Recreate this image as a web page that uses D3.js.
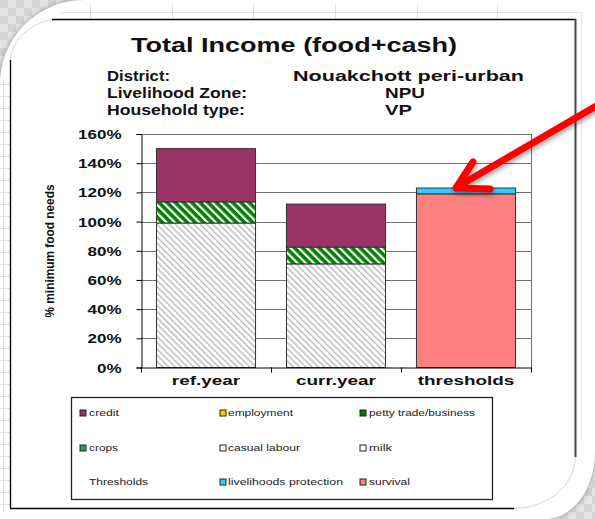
<!DOCTYPE html>
<html><head><meta charset="utf-8">
<script src="https://cdn.jsdelivr.net/npm/d3@7"></script>
<style>html,body{margin:0;padding:0;background:#fff;overflow:hidden}</style>
</head><body>
<svg id="c" width="595" height="519"></svg>
<script>
// ---------------- data ----------------
const categories = ["ref.year", "curr.year", "thresholds"];
const credit = [36.5, 29.5, 0];
const employment = [0, 0, 0];
const pettyTrade = [14.5, 11.5, 0];
const crops = [0, 0, 0];
const casualLabour = [99, 71, 0];
const milk = [0, 0, 0];
const livelihoodsProtection = [0, 0, 4];
const survival = [0, 0, 119];
const yTicks = [0, 20, 40, 60, 80, 100, 120, 140, 160];
const titleText = "Total Income (food+cash)";
const headerLabels = ["District:", "Livelihood Zone:", "Household type:"];
const headerValues = ["Nouakchott peri-urban", "NPU", "VP"];
const yAxisTitle = "% minimum food needs";
const legendLabels = ["credit", "employment", "petty trade/business",
                      "crops", "casual labour", "milk",
                      "Thresholds", "livelihoods protection", "survival"];

// series table (bottom -> top stacking order)
const seriesTable = [
  {key: "survival", values: survival},
  {key: "livelihoods protection", values: livelihoodsProtection},
  {key: "milk", values: milk},
  {key: "casual labour", values: casualLabour},
  {key: "crops", values: crops},
  {key: "petty trade/business", values: pettyTrade},
  {key: "employment", values: employment},
  {key: "credit", values: credit}
];

// ---------------- styles ----------------
const FONT = "'Liberation Sans', Arial, sans-serif";
const fills = {
  "credit": "#993366",
  "employment": "#FFCC00",
  "petty trade/business": "url(#hatchGreen)",
  "crops": "#339966",
  "casual labour": "url(#hatchGray)",
  "milk": "#ffffff",
  "livelihoods protection": "#33CCFF",
  "survival": "#FF8080"
};
const legendFills = Object.assign({}, fills, {
  "petty trade/business": "#008000", "casual labour": "#ffffff"
});

const svg = d3.select("#c");
const defs = svg.append("defs");

function stripePattern(id, period, stripeW, bg, fg) {
  const p = defs.append("pattern").attr("id", id)
    .attr("patternUnits", "userSpaceOnUse")
    .attr("width", period).attr("height", period)
    .attr("patternTransform", "rotate(-45)");
  p.append("rect").attr("width", period).attr("height", period).attr("fill", bg);
  p.append("rect").attr("width", stripeW).attr("height", period).attr("fill", fg);
}
stripePattern("hatchGray", 4.4, 1.3, "#ffffff", "#b4b4b4");
stripePattern("hatchGreen", 5.8, 2.2, "#008000", "#ffffff");

// checker background
const chk = defs.append("pattern").attr("id", "chk")
  .attr("patternUnits", "userSpaceOnUse").attr("width", 16).attr("height", 16);
chk.append("rect").attr("width", 16).attr("height", 16).attr("fill", "#e6e6e6");
chk.append("rect").attr("width", 8).attr("height", 8).attr("fill", "#d4d4d4");
chk.append("rect").attr("x", 8).attr("y", 8).attr("width", 8).attr("height", 8).attr("fill", "#d4d4d4");
defs.append("filter").attr("id", "blur").attr("x", "-10%").attr("y", "-10%")
  .attr("width", "120%").attr("height", "120%")
  .append("feGaussianBlur").attr("stdDeviation", 3);
const sh = defs.append("filter").attr("id", "ashadow")
  .attr("x", "-20%").attr("y", "-20%").attr("width", "140%").attr("height", "140%");
sh.append("feDropShadow").attr("dx", 1).attr("dy", 3).attr("stdDeviation", 2)
  .attr("flood-color", "#000").attr("flood-opacity", 0.35);

svg.append("rect").attr("width", 595).attr("height", 519).attr("fill", "url(#chk)");
const pagePath = "M0,84 A84,84 0 0 1 84,0 L595,0 L595,452 A50,67 0 0 1 545,519 L0,519 Z";
svg.append("path").attr("d", pagePath).attr("fill", "#9a9a9a").attr("filter", "url(#blur)");
svg.append("path").attr("d", pagePath).attr("fill", "#ffffff");

// faint spreadsheet grid outside chart box
const gridG = svg.append("g").attr("stroke", "#e2e2e2").attr("stroke-width", 1);
[90, 172, 253, 335, 417, 497].forEach(x =>
  gridG.append("line").attr("x1", x + 0.5).attr("x2", x + 0.5).attr("y1", 4).attr("y2", 19));
gridG.append("line").attr("x1", 60).attr("x2", 582).attr("y1", 12.5).attr("y2", 12.5);
gridG.append("line").attr("x1", 581.5).attr("x2", 581.5).attr("y1", 12).attr("y2", 440);
gridG.append("line").attr("x1", 3.5).attr("x2", 3.5).attr("y1", 80).attr("y2", 512);
d3.range(84, 508, 12).forEach(y =>
  gridG.append("line").attr("x1", 0).attr("x2", 10).attr("y1", y + 0.5).attr("y2", y + 0.5));

// chart box
const box = svg.append("g").attr("fill", "none");
box.append("line").attr("x1", 52).attr("x2", 576).attr("y1", 19.5).attr("y2", 19.5).attr("stroke", "#000").attr("stroke-width", 1.3);
box.append("line").attr("x1", 575.5).attr("x2", 575.5).attr("y1", 19).attr("y2", 457).attr("stroke", "#444").attr("stroke-width", 2);
box.append("line").attr("x1", 10.5).attr("x2", 10.5).attr("y1", 60).attr("y2", 508).attr("stroke", "#000").attr("stroke-width", 1.3);
box.append("line").attr("x1", 10).attr("x2", 514).attr("y1", 508.5).attr("y2", 508.5).attr("stroke", "#000").attr("stroke-width", 1.3);
box.append("path").attr("d", "M10.5,60 A52,44 0 0 1 52,19.5").attr("stroke", "#d8d8d8");
box.append("path").attr("d", "M575.5,457 A62,52 0 0 1 514,508.5").attr("stroke", "#d8d8d8");

// ---------------- titles ----------------
svg.append("text").attr("x", 294).attr("y", 52).attr("text-anchor", "middle")
  .attr("font-family", FONT).attr("font-weight", "bold").attr("font-size", 19.5)
  .attr("fill", "#111").attr("textLength", 326).attr("lengthAdjust", "spacingAndGlyphs")
  .text(titleText);

const headerY = [81, 98, 115];
const headerLabelW = [63, 140, 138];
const headerValueX = [293, 385, 385];
const headerValueW = [231, 40, 27];
headerLabels.forEach((t, i) => {
  svg.append("text").attr("x", 107).attr("y", headerY[i])
    .attr("font-family", FONT).attr("font-weight", "bold").attr("font-size", 15)
    .attr("fill", "#111").attr("textLength", headerLabelW[i]).attr("lengthAdjust", "spacingAndGlyphs")
    .text(t);
  svg.append("text").attr("x", headerValueX[i]).attr("y", headerY[i])
    .attr("font-family", FONT).attr("font-weight", "bold").attr("font-size", 15)
    .attr("fill", "#111").attr("textLength", headerValueW[i]).attr("lengthAdjust", "spacingAndGlyphs")
    .text(headerValues[i]);
});

// ---------------- chart ----------------
const plot = {left: 141, right: 531, top: 134, bottom: 367.5};
const x = d3.scaleBand().domain(categories).range([plot.left, plot.right])
  .paddingInner(0.238).paddingOuter(0.119);
const y = d3.scaleLinear().domain([0, 160]).range([plot.bottom, plot.top]);

// gridlines
const gl = svg.append("g");
gl.selectAll("line").data(yTicks.filter(d => d > 0)).join("line")
  .attr("x1", plot.left).attr("x2", plot.right)
  .attr("y1", d => Math.round(y(d)) + 0.5).attr("y2", d => Math.round(y(d)) + 0.5)
  .attr("stroke", "#707070").attr("stroke-width", 1);
svg.append("line").attr("x1", plot.right + 0.5).attr("x2", plot.right + 0.5)
  .attr("y1", plot.top).attr("y2", plot.bottom).attr("stroke", "#707070");

// stacked bars
const rows = categories.map((c, i) => {
  const r = {cat: c};
  seriesTable.forEach(s => r[s.key] = s.values[i]);
  return r;
});
const stacked = d3.stack().keys(seriesTable.map(s => s.key))(rows);
const barsG = svg.append("g");
stacked.forEach(layer => {
  barsG.append("g").selectAll("rect")
    .data(layer.filter(d => d[1] - d[0] > 0)).join("rect")
    .attr("x", d => x(d.data.cat))
    .attr("width", x.bandwidth())
    .attr("y", d => y(d[1]))
    .attr("height", d => y(d[0]) - y(d[1]))
    .attr("fill", fills[layer.key])
    .attr("stroke", "#333").attr("stroke-width", 1);
});

// y axis
const yAxis = d3.axisLeft(y).tickValues(yTicks).tickSize(5).tickPadding(15)
  .tickFormat(d => d + "%");
const yg = svg.append("g").attr("transform", `translate(${plot.left + 0.5},0)`).call(yAxis);
yg.select(".domain").attr("stroke", "#000");
yg.selectAll(".tick line").attr("stroke", "#000");
yg.selectAll(".tick text").attr("font-family", FONT).attr("font-weight", "bold")
  .attr("font-size", 12.5).attr("fill", "#111").attr("dy", "0.36em")
  .each(function () {
    const n = this.getComputedTextLength();
    d3.select(this).attr("textLength", n * 1.36).attr("lengthAdjust", "spacingAndGlyphs");
  });

// x axis
svg.append("line").attr("x1", plot.left).attr("x2", plot.right + 1)
  .attr("y1", plot.bottom + 0.5).attr("y2", plot.bottom + 0.5).attr("stroke", "#000");
const edges = categories.map(c => x(c) - x.step() * x.paddingInner() / 2)
  .concat([plot.right]);
svg.append("g").selectAll("line").data(edges).join("line")
  .attr("x1", d => Math.round(d) + 0.5).attr("x2", d => Math.round(d) + 0.5)
  .attr("y1", plot.bottom).attr("y2", plot.bottom + 5).attr("stroke", "#000");
svg.append("g").selectAll("text").data(categories).join("text")
  .attr("x", d => x(d) + x.bandwidth() / 2).attr("y", 385)
  .attr("text-anchor", "middle").attr("font-family", FONT).attr("font-weight", "bold")
  .attr("font-size", 13.5).attr("fill", "#111")
  .text(d => d)
  .each(function () {
    const n = this.getComputedTextLength();
    d3.select(this).attr("textLength", n * 1.4).attr("lengthAdjust", "spacingAndGlyphs");
  });

// y axis title
svg.append("text").attr("transform", "translate(54,251) rotate(-90)")
  .attr("text-anchor", "middle").attr("font-family", FONT).attr("font-weight", "bold")
  .attr("font-size", 12).attr("fill", "#111")
  .attr("textLength", 133).attr("lengthAdjust", "spacingAndGlyphs")
  .text(yAxisTitle);

// ---------------- legend ----------------
svg.append("rect").attr("x", 71.5).attr("y", 397.5).attr("width", 421).attr("height", 102)
  .attr("fill", "#fff").attr("stroke", "#222").attr("stroke-width", 1.3);
const legColMarker = [80, 220, 360];
const legColText = [89, 228, 369];
const legRowY = [413, 448, 482];
const legTextW = {
  "credit": 30, "employment": 65, "petty trade/business": 106,
  "crops": 29, "casual labour": 72, "milk": 23,
  "Thresholds": 59, "livelihoods protection": 115, "survival": 41
};
const lg = svg.append("g");
legendLabels.forEach((lab, i) => {
  const col = i % 3, row = Math.floor(i / 3);
  if (legendFills[lab]) {
    lg.append("rect").attr("x", legColMarker[col]).attr("y", legRowY[row] - 3)
      .attr("width", 6).attr("height", 6)
      .attr("fill", legendFills[lab]).attr("stroke", "#222").attr("stroke-width", 1);
  }
  lg.append("text").attr("x", legColText[col]).attr("y", legRowY[row] + 3)
    .attr("font-family", FONT).attr("font-size", 9).attr("fill", "#222")
    .attr("textLength", legTextW[lab]).attr("lengthAdjust", "spacingAndGlyphs")
    .text(lab);
});

// ---------------- red arrow ----------------
const ag = svg.append("g").attr("filter", "url(#ashadow)")
  .attr("stroke", "#ff0000").attr("stroke-width", 7).attr("fill", "none")
  .attr("stroke-linecap", "round").attr("stroke-linejoin", "round");
ag.append("line").attr("x1", 610).attr("y1", 98).attr("x2", 457).attr("y2", 187);
ag.append("polyline").attr("points", "473,162 456,188 490,189");
</script>
</body></html>
